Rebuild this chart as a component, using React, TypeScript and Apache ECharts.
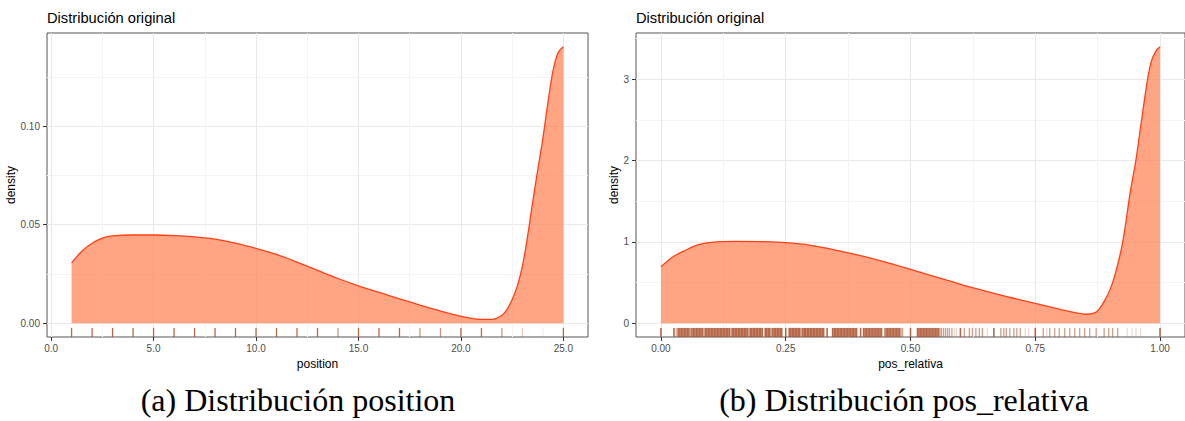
import React, { useEffect, useRef } from "react";
import * as echarts from "echarts";

// ---------- data: position ----------
const positionX = [1, 1.5, 2, 2.5, 3, 4, 5, 6, 7, 8, 9, 10, 11, 12, 13, 14, 15, 16, 17, 18, 19, 20, 21, 21.5, 22, 22.25, 22.5, 22.75, 23, 23.25, 23.5, 23.75, 24, 24.25, 24.5, 24.75, 25];
const positionDensity = [0.0306, 0.0365, 0.0406, 0.0432, 0.0443, 0.0448, 0.0448, 0.0445, 0.0438, 0.0427, 0.0407, 0.038, 0.0349, 0.031, 0.0268, 0.0227, 0.019, 0.0156, 0.0124, 0.0092, 0.0061, 0.0035, 0.0019, 0.0019, 0.004, 0.007, 0.012, 0.0188, 0.029, 0.044, 0.0615, 0.078, 0.094, 0.1125, 0.1285, 0.1376, 0.1404];
const positionRugDark = [1, 2, 3, 4, 5, 6, 7, 8, 9, 10, 11, 12, 13, 15, 16, 17, 20, 21, 25];
const positionRugMedium = [14, 18, 19, 22];
const positionRugLight = [23];
const positionRugFaint = [24];
const positionTicks = [0, 5, 10, 15, 20, 25];
const positionMinor = [2.5, 7.5, 12.5, 17.5, 22.5];
const positionDensityTicks = [0, 0.05, 0.1];
const positionDensityMinor = [0.025, 0.075, 0.125];

// ---------- data: pos_relativa ----------
const relX = [0, 0.025, 0.05, 0.075, 0.1, 0.15, 0.2, 0.25, 0.3, 0.35, 0.4, 0.45, 0.5, 0.55, 0.6, 0.65, 0.7, 0.75, 0.8, 0.83, 0.85, 0.87, 0.88, 0.89, 0.9, 0.91, 0.925, 0.94, 0.9515, 0.963, 0.975, 0.983, 0.992, 1];
const relDensity = [0.694, 0.82, 0.9, 0.965, 0.995, 1.007, 1.003, 0.99, 0.958, 0.9, 0.83, 0.75, 0.661, 0.571, 0.478, 0.395, 0.316, 0.245, 0.171, 0.13, 0.11, 0.13, 0.19, 0.29, 0.416, 0.6, 0.99, 1.6, 2.0, 2.5, 3.0, 3.23, 3.35, 3.4];
const relRugDark = [
  0,
  0.026, 0.035, 0.038, 0.041, 0.044, 0.047, 0.050, 0.053, 0.056, 0.062, 0.065, 0.068, 0.071, 0.074, 0.077, 0.080, 0.083,
  0.089, 0.092, 0.095, 0.098, 0.101, 0.104, 0.107, 0.110, 0.113, 0.116, 0.119, 0.122, 0.125, 0.128, 0.131, 0.134, 0.137,
  0.143, 0.146, 0.149, 0.152, 0.155, 0.158, 0.161, 0.164, 0.167, 0.170, 0.173, 0.179, 0.182, 0.185, 0.188, 0.191, 0.194,
  0.197, 0.200, 0.203, 0.209, 0.212, 0.215, 0.218, 0.224, 0.227, 0.230, 0.233, 0.236, 0.239, 0.242,
  0.25,
  0.257, 0.260, 0.263, 0.266, 0.269, 0.272, 0.275, 0.278, 0.284, 0.287, 0.290, 0.293, 0.296, 0.299, 0.302, 0.305, 0.308,
  0.311, 0.314, 0.317, 0.320, 0.323, 0.326,
  0.333,
  0.344, 0.347, 0.350, 0.353, 0.356, 0.359, 0.362, 0.365, 0.368, 0.371, 0.374, 0.377, 0.380, 0.383, 0.386, 0.389, 0.392,
  0.4,
  0.406, 0.409, 0.412, 0.415, 0.418, 0.421, 0.424, 0.427, 0.430, 0.433, 0.436, 0.439, 0.442, 0.451, 0.454, 0.457, 0.460,
  0.463, 0.466, 0.469, 0.472, 0.475, 0.478,
  0.5,
  0.514, 0.517, 0.520, 0.523, 0.526, 0.529, 0.532, 0.535, 0.538, 0.541, 0.544, 0.547, 0.550, 0.553, 0.556,
  0.6, 0.667, 0.75, 1.0,
];
const relRugMedium = [
  0.032, 0.059, 0.086, 0.140, 0.176, 0.221, 0.281, 0.448, 0.481, 0.484,
  0.559, 0.562, 0.566, 0.570, 0.574, 0.578, 0.583,
  0.608, 0.618, 0.624, 0.631, 0.638, 0.644,
  0.681, 0.687, 0.692, 0.699, 0.707, 0.713, 0.72,
  0.766, 0.779, 0.789, 0.798, 0.809, 0.819, 0.829, 0.839, 0.849, 0.859, 0.872, 0.888, 0.897, 0.905, 0.915,
];
const relRugLight = [0.029, 0.588, 0.592, 0.654, 0.73, 0.737, 0.773, 0.934, 0.944, 0.952, 0.961];
const relTicks = [0, 0.25, 0.5, 0.75, 1];
const relMinor = [0.125, 0.375, 0.625, 0.875];
const relDensityTicks = [0, 1, 2, 3];
const relDensityMinor = [0.5, 1.5, 2.5, 3.5];

const captionLeft = "(a) Distribución position";
const captionRight = "(b) Distribución pos_relativa";
const panelTitle = "Distribución original";

// ---------- styles ----------
const SANS = "'Liberation Sans', Arial, Helvetica, sans-serif";
const SERIF = "'Liberation Serif', 'DejaVu Serif', serif";
const FILL = "rgba(255,127,80,0.7)";
const LINE = "#ff4016";
const RUG = "#a9502c";
const MAJOR = "#e9e9e9";
const MINOR = "#f4f4f4";

const P_MIN = -0.00702;
const P_MAX = 0.1474;
const R_MIN = -0.17;
const R_MAX = 3.57;

function zip(xs: number[], ys: number[]) {
  return xs.map((x, i) => [x, ys[i]]);
}

function rugSeries(values: number[], xi: number, yMin: number, yMax: number, alpha: number, width: number) {
  const len = (yMax - yMin) * 0.03;
  return {
    type: "custom",
    xAxisIndex: xi,
    yAxisIndex: xi,
    silent: true,
    data: values.map((v) => [v, yMin]),
    encode: { x: 0, y: 1 },
    renderItem: (_params: any, api: any) => {
      const x = api.value(0);
      const p0 = api.coord([x, yMin]);
      const p1 = api.coord([x, yMin + len]);
      return {
        type: "line",
        shape: { x1: p0[0], y1: p0[1], x2: p1[0], y2: p1[1] },
        style: { stroke: RUG, lineWidth: width, opacity: alpha },
      };
    },
  };
}

function majorX(grid: number, min: number, max: number, ticks: number[], digits: number, name: string) {
  return {
    type: "value",
    gridIndex: grid,
    min,
    max,
    position: "bottom",
    name,
    nameLocation: "middle",
    nameGap: 18,
    nameTextStyle: { fontSize: 12, color: "#000", fontFamily: SANS },
    axisLine: { show: false, onZero: false },
    axisTick: { show: true, length: 4, customValues: ticks, lineStyle: { color: "#333", width: 1 } },
    axisLabel: {
      show: true,
      customValues: ticks,
      margin: 6,
      fontSize: 10,
      color: "#4d4d4d",
      fontFamily: SANS,
      formatter: (v: number) => v.toFixed(digits),
    },
    splitLine: { show: true, lineStyle: { color: MAJOR, width: 1 } },
  };
}

function minorAxis(grid: number, min: number, max: number, ticks: number[], pos: string) {
  return {
    type: "value",
    gridIndex: grid,
    min,
    max,
    position: pos,
    axisLine: { show: false, onZero: false },
    axisTick: { show: false, customValues: ticks },
    axisLabel: { show: false, customValues: ticks },
    splitLine: { show: true, lineStyle: { color: MINOR, width: 1 } },
  };
}

function majorY(grid: number, min: number, max: number, ticks: number[], digits: number, gap: number) {
  return {
    type: "value",
    gridIndex: grid,
    min,
    max,
    position: "left",
    name: "density",
    nameLocation: "middle",
    nameGap: gap,
    nameRotate: 90,
    nameTextStyle: { fontSize: 12, color: "#000", fontFamily: SANS },
    axisLine: { show: false, onZero: false },
    axisTick: { show: true, length: 4, customValues: ticks, lineStyle: { color: "#333", width: 1 } },
    axisLabel: {
      show: true,
      customValues: ticks,
      margin: 7,
      fontSize: 10,
      color: "#4d4d4d",
      fontFamily: SANS,
      formatter: (v: number) => v.toFixed(digits),
    },
    splitLine: { show: true, lineStyle: { color: MAJOR, width: 1 } },
  };
}

function densitySeries(xi: number, data: number[][]) {
  return {
    type: "line",
    xAxisIndex: xi,
    yAxisIndex: xi,
    data,
    smooth: 0.35,
    symbol: "none",
    silent: true,
    lineStyle: { color: LINE, width: 1.3 },
    areaStyle: { color: FILL, opacity: 1 },
    z: 2,
  };
}

export default function App() {
  const ref = useRef<HTMLDivElement>(null);
  useEffect(() => {
    if (!ref.current) return;
    const chart = echarts.init(ref.current, null, { renderer: "svg" });
    const titleStyle = { fontSize: 14.7, fontWeight: "normal", color: "#000", fontFamily: SANS };
    chart.setOption({
      animation: false,
      backgroundColor: "#fff",
      textStyle: { fontFamily: SANS },
      title: [
        { text: panelTitle, left: 47, top: 10, padding: 0, textStyle: titleStyle },
        { text: panelTitle, left: 636, top: 10, padding: 0, textStyle: titleStyle },
      ],
      grid: [
        { left: 47, top: 33, width: 541, height: 304, show: true, borderColor: "#555", borderWidth: 1, backgroundColor: "#fff" },
        { left: 636, top: 33, width: 555, height: 304, show: true, borderColor: "#555", borderWidth: 1, backgroundColor: "#fff" },
      ],
      xAxis: [
        majorX(0, -0.2, 26.2, positionTicks, 1, "position"),
        majorX(1, -0.05, 1.05, relTicks, 2, "pos_relativa"),
        minorAxis(0, -0.2, 26.2, positionMinor, "top"),
        minorAxis(1, -0.05, 1.05, relMinor, "top"),
      ],
      yAxis: [
        majorY(0, P_MIN, P_MAX, positionDensityTicks, 2, 25),
        majorY(1, R_MIN, R_MAX, relDensityTicks, 0, 16),
        minorAxis(0, P_MIN, P_MAX, positionDensityMinor, "right"),
        minorAxis(1, R_MIN, R_MAX, relDensityMinor, "right"),
      ],
      graphic: [
        {
          type: "text",
          x: 298,
          y: 400,
          style: { text: captionLeft, fontSize: 32, fontFamily: SERIF, fill: "#000", align: "center", verticalAlign: "middle" },
        },
        {
          type: "text",
          x: 904,
          y: 400,
          style: { text: captionRight, fontSize: 32, fontFamily: SERIF, fill: "#000", align: "center", verticalAlign: "middle" },
        },
      ],
      series: [
        densitySeries(0, zip(positionX, positionDensity)),
        densitySeries(1, zip(relX, relDensity)),
        rugSeries(positionRugDark, 0, P_MIN, P_MAX, 0.85, 1.3),
        rugSeries(positionRugMedium, 0, P_MIN, P_MAX, 0.6, 1.3),
        rugSeries(positionRugLight, 0, P_MIN, P_MAX, 0.3, 1.3),
        rugSeries(positionRugFaint, 0, P_MIN, P_MAX, 0.1, 1.3),
        rugSeries(relRugDark, 1, R_MIN, R_MAX, 0.85, 1.6),
        rugSeries(relRugMedium, 1, R_MIN, R_MAX, 0.55, 1.3),
        rugSeries(relRugLight, 1, R_MIN, R_MAX, 0.22, 1.3),
      ],
    });
    return () => chart.dispose();
  }, []);
  return <div ref={ref} style={{ position: "absolute", left: 0, top: 0, width: 1185, height: 421 }} />;
}
